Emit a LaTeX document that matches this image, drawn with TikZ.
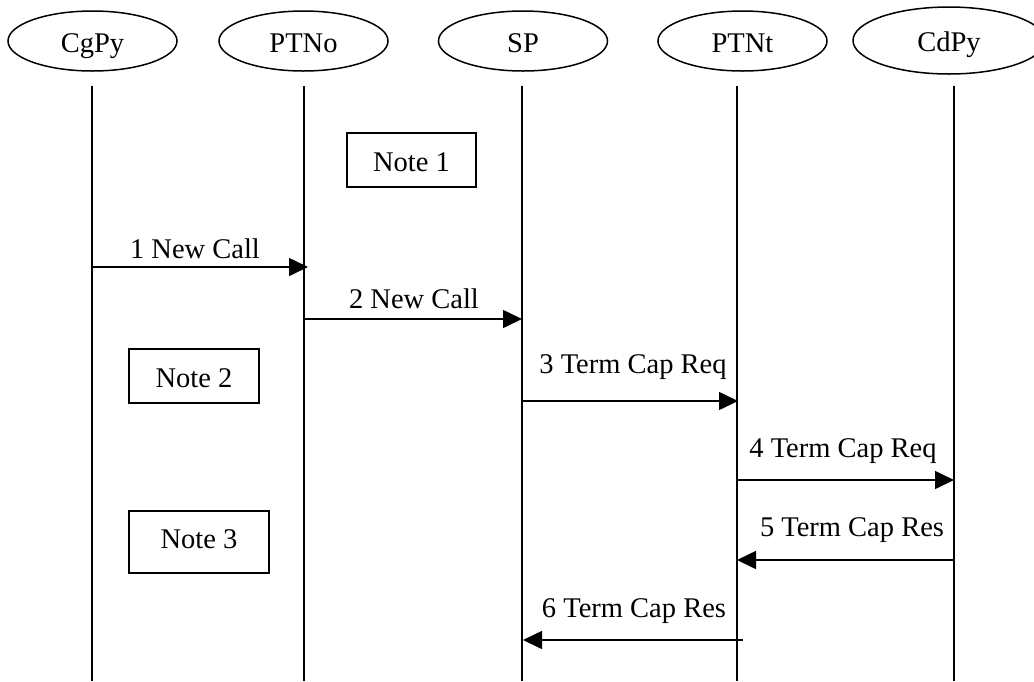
\documentclass[tikz,border=0pt]{standalone}
\usepackage{fontspec}
\setmainfont{Liberation Serif}
\usetikzlibrary{arrows.meta,shapes.geometric}
\begin{document}
\begin{tikzpicture}[x=1pt,y=-1pt,
  every node/.style={font=\fontsize{28.5}{34}\selectfont},
  party/.style={draw,ellipse,line width=1.5pt,inner sep=0pt,minimum width=169pt,minimum height=60pt,text height=22pt,text depth=0pt},
  notebox/.style={draw,rectangle,line width=1.5pt,inner sep=0pt,minimum width=129pt,minimum height=54pt,text height=22pt,text depth=0pt},
  life/.style={line width=1.5pt},
  msg/.style={line width=1.6pt,-{Triangle[length=19pt,width=18pt]}},
  msglabel/.style={anchor=base,inner sep=0pt}
]
\useasboundingbox (0,0) rectangle (1034,681);
\clip (0,0) rectangle (1034,681);

% parties
\node[party] (cgpy) at (92.5,41) {CgPy};
\node[party] (ptno) at (303.5,41) {PTNo};
\node[party] (sp) at (523,41) {SP};
\node[party] (ptnt) at (742.5,41) {PTNt};
\node[party,minimum width=192pt,minimum height=67pt] (cdpy) at (949,40.5) {CdPy};

% lifelines
\coordinate (cgpyT) at (92,86);  \coordinate (cgpyB) at (92,681);
\coordinate (ptnoT) at (304,86); \coordinate (ptnoB) at (304,681);
\coordinate (spT) at (522,86);   \coordinate (spB) at (522,681);
\coordinate (ptntT) at (737,86); \coordinate (ptntB) at (737,681);
\coordinate (cdpyT) at (954,86); \coordinate (cdpyB) at (954,681);
\draw[life] (cgpyT) -- (cgpyB);
\draw[life] (ptnoT) -- (ptnoB);
\draw[life] (spT) -- (spB);
\draw[life] (ptntT) -- (ptntB);
\draw[life] (cdpyT) -- (cdpyB);

% notes
\node[notebox] (n1) at (411.5,160) {Note 1};
\node[notebox,minimum width=130pt] (n2) at (194,376) {Note 2};
\node[notebox,minimum width=140pt,minimum height=62pt,text depth=10pt] (n3) at (199,542) {Note 3};

% messages
\coordinate (m1s) at (92,267);  \coordinate (m1e) at (308,267);
\coordinate (m2s) at (304,319); \coordinate (m2e) at (522,319);
\coordinate (m3s) at (522,401); \coordinate (m3e) at (738,401);
\coordinate (m4s) at (737,480); \coordinate (m4e) at (954,480);
\coordinate (m5s) at (954,560); \coordinate (m5e) at (737,560);
\coordinate (m6s) at (743,640); \coordinate (m6e) at (523,640);
\draw[msg] (m1s) -- (m1e);
\draw[msg] (m2s) -- (m2e);
\draw[msg] (m3s) -- (m3e);
\draw[msg] (m4s) -- (m4e);
\draw[msg] (m5s) -- (m5e);
\draw[msg] (m6s) -- (m6e);

\node[msglabel] (l1) at (195,258) {1 New Call};
\node[msglabel] (l2) at (414,308) {2 New Call};
\node[msglabel] (l3) at (633,373) {3 Term Cap Req};
\node[msglabel] (l4) at (843,457) {4 Term Cap Req};
\node[msglabel] (l5) at (852,536) {5 Term Cap Res};
\node[msglabel] (l6) at (634,617) {6 Term Cap Res};
\end{tikzpicture}
\end{document}
